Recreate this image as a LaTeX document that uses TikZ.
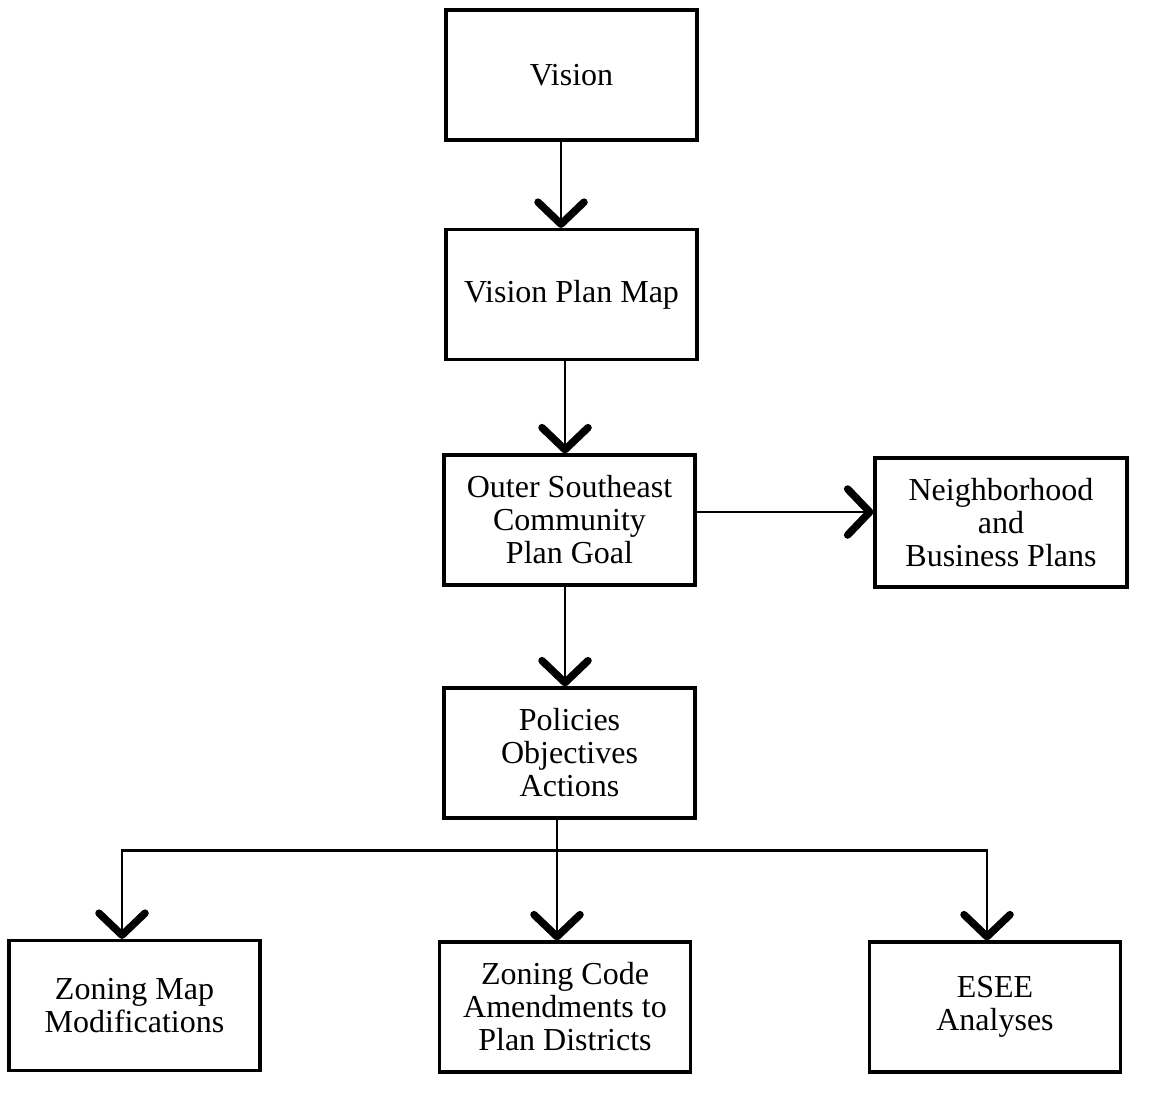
\documentclass[tikz,border=0pt]{standalone}
\usepackage{fontspec}
\setmainfont{Liberation Serif}
\usetikzlibrary{arrows.meta,calc}
\begin{document}
\begin{tikzpicture}[x=1pt,y=-1pt,
  box/.style={draw=black, line width=3.2pt, minimum width=251pt, minimum height=130pt,
    align=center, inner sep=0pt, font=\fontsize{32}{33}\selectfont},
  conn/.style={line width=2.4pt, draw=black},
  arr/.style={conn, -{Straight Barb[length=22pt, width=46pt, line width=7.5pt, round]}},
  every node/.style={text=black}]
\useasboundingbox (0,0) rectangle (1158,1109);
\fill[white] (0,0) rectangle (1158,1109);
\node[box] (vision) at (571.5,75) {Vision};
\node[box] (vpm) at (571.5,294.5) {Vision Plan Map};
\node[box] (ose) at (569.5,520) {Outer Southeast\\Community\\Plan Goal};
\node[box, minimum width=252pt, minimum height=129pt] (nbp) at (1001,522.5) {Neighborhood\\and\\Business Plans};
\node[box] (poa) at (569.5,753) {Policies\\Objectives\\Actions};
\node[box] (zmm) at (134.5,1005.5) {Zoning Map\\Modifications};
\node[box] (zca) at (565,1007) {Zoning Code\\Amendments to\\Plan Districts};
\node[box] (esee) at (995,1007) {ESEE\\Analyses};
\coordinate (br) at ($(poa.south)+(-12.5,31)$);
\coordinate (oe) at ($(ose.east)+(0,-8)$);
\draw[arr] ([xshift=-10.5pt]vision.south) -- ([xshift=-10.5pt]vpm.north);
\draw[arr] ([xshift=-6.5pt]vpm.south) -- ([xshift=-4.5pt]ose.north);
\draw[arr] ([xshift=-4.5pt]ose.south) -- ([xshift=-4.5pt]poa.north);
\draw[arr] (oe) -- (oe -| nbp.west);
\draw[conn] ([xshift=-12.5pt]poa.south) -- (br);
\draw[arr] (br) -| ([xshift=-12.5pt]zmm.north);
\draw[arr] (br) -- ([xshift=-8pt]zca.north);
\draw[arr] (br) -| ([xshift=-8pt]esee.north);
\end{tikzpicture}
\end{document}
